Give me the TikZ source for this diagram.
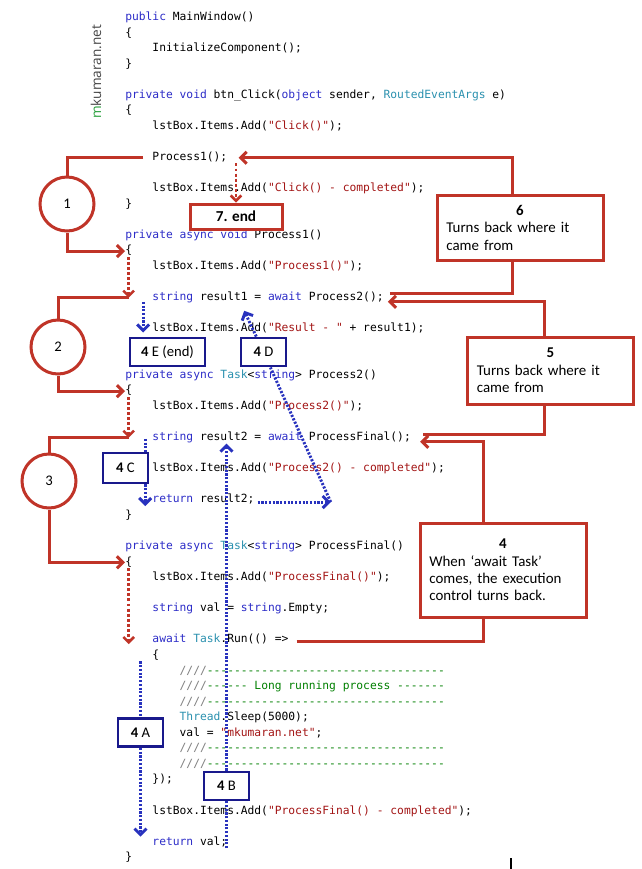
\documentclass[tikz,border=0pt]{standalone}
\usepackage{fontspec}
\setmonofont{DejaVu Sans Mono}
\newfontfamily\notefont{Carlito}
\newfontfamily\sitefont{Open Sans}
\usetikzlibrary{arrows.meta,calc,positioning}

\definecolor{codered}{RGB}{192,52,40}
\definecolor{boxblue}{RGB}{25,25,140}
\definecolor{dotblue}{RGB}{40,50,190}
\definecolor{kwblue}{RGB}{45,45,200}
\definecolor{typeteal}{RGB}{43,145,175}
\definecolor{strred}{RGB}{163,21,21}
\definecolor{cmtgreen}{RGB}{0,128,0}
\definecolor{cmtgray}{RGB}{128,128,128}
\definecolor{sitegreen}{RGB}{40,160,60}
\definecolor{sitegray}{RGB}{70,70,70}

% code colouring
\newcommand{\ckw}[1]{\textcolor{kwblue}{#1}}
\newcommand{\ctp}[1]{\textcolor{typeteal}{#1}}
\newcommand{\cst}[1]{\textcolor{strred}{#1}}
\newcommand{\ccm}[1]{\textcolor{cmtgreen}{#1}}
\newcommand{\cdc}[1]{\textcolor{cmtgray}{#1}}
% one line of the listing: slot, indent, text
\newcommand{\codeln}[3]{\node[code] (c#1) at ({125+27.2*#2},{20.5+15.56*#1}) {#3};}
% centred first line of a note
\newcommand{\notehead}[1]{\makebox[\linewidth]{\textbf{#1}}\\}

\tikzset{
  code/.style={anchor=base west, inner sep=0pt, text height=6.2pt, text depth=2pt,
    font=\ttfamily\fontsize{8.47}{10}\selectfont},
  sitemark/.style={rotate=90, inner sep=0pt, text=sitegray,
    font=\sitefont\fontsize{10.2}{12}\selectfont},
  redline/.style={draw=codered, line width=2.25pt},
  redarrow/.style={redline, -{Straight Barb[length=4.5pt,width=9pt]}},
  reddot/.style={draw=codered, line width=1.9pt, dash pattern=on 2.2pt off 1.6pt,
    -{Straight Barb[length=4pt,width=8pt]}},
  bluedot/.style={draw=dotblue, line width=2.2pt, dash pattern=on 1.6pt off 1.2pt},
  bluearrow/.style={bluedot, -{Straight Barb[length=4.5pt,width=9pt]}},
  stepcircle/.style={circle, draw=codered, line width=2.25pt, fill=white,
    minimum size=40.5pt, inner sep=0pt, font=\notefont\fontsize{11}{13}\selectfont},
  notebox/.style={draw=codered, line width=2.25pt, fill=white, inner xsep=7pt,
    text width=110.5pt, align=left, font=\notefont\fontsize{11.2}{13.1}\selectfont},
  endbox/.style={draw=codered, line width=2.25pt, fill=white, minimum width=69pt,
    minimum height=18.75pt, inner sep=0pt, font=\notefont\bfseries\fontsize{11.4}{13}\selectfont},
  bluebox/.style={draw=boxblue, line width=2.2pt, fill=white, minimum width=33.75pt,
    minimum height=21pt, inner sep=0pt, font=\notefont\fontsize{11}{13}\selectfont}
}

\begin{document}
\begin{tikzpicture}[x=0.75pt, y=-0.75pt]
    % page
    \fill[white] (0,0) rectangle (642,869);
    \useasboundingbox (0,0) rectangle (642,869);

    % site name
    \node[sitemark] (site) at (96,72) {\textcolor{sitegreen}{m}kumaran.net};

    % listing
    \codeln{0}{0}{\ckw{public} MainWindow()}
    \codeln{1}{0}{\{}
    \codeln{2}{1}{InitializeComponent();}
    \codeln{3}{0}{\}}
    \codeln{5}{0}{\ckw{private} \ckw{void} btn\_Click(\ckw{object} sender, \ctp{RoutedEventArgs} e)}
    \codeln{6}{0}{\{}
    \codeln{7}{1}{lstBox.Items.Add(\cst{"Click()"});}
    \codeln{9}{1}{Process1();}
    \codeln{11}{1}{lstBox.Items.Add(\cst{"Click() - completed"});}
    \codeln{12}{0}{\}}
    \codeln{14}{0}{\ckw{private} \ckw{async} \ckw{void} Process1()}
    \codeln{15}{0}{\{}
    \codeln{16}{1}{lstBox.Items.Add(\cst{"Process1()"});}
    \codeln{18}{1}{\ckw{string} result1 = \ckw{await} Process2();}
    \codeln{20}{1}{lstBox.Items.Add(\cst{"Result - "} + result1);}
    \codeln{23}{0}{\ckw{private} \ckw{async} \ctp{Task}<\ckw{string}> Process2()}
    \codeln{24}{0}{\{}
    \codeln{25}{1}{lstBox.Items.Add(\cst{"Process2()"});}
    \codeln{27}{1}{\ckw{string} result2 = \ckw{await} ProcessFinal();}
    \codeln{29}{1}{lstBox.Items.Add(\cst{"Process2() - completed"});}
    \codeln{31}{1}{\ckw{return} result2;}
    \codeln{32}{0}{\}}
    \codeln{34}{0}{\ckw{private} \ckw{async} \ctp{Task}<\ckw{string}> ProcessFinal()}
    \codeln{35}{0}{\{}
    \codeln{36}{1}{lstBox.Items.Add(\cst{"ProcessFinal()"});}
    \codeln{38}{1}{\ckw{string} val = \ckw{string}.Empty;}
    \codeln{40}{1}{\ckw{await} \ctp{Task}.Run(() =>}
    \codeln{41}{1}{\{}
    \codeln{42}{2}{\cdc{////}\ccm{-----------------------------------}}
    \codeln{43}{2}{\cdc{////}\ccm{------ Long running process -------}}
    \codeln{44}{2}{\cdc{////}\ccm{-----------------------------------}}
    \codeln{45}{2}{\ctp{Thread}.Sleep(5000);}
    \codeln{46}{2}{val = \cst{"mkumaran.net"};}
    \codeln{47}{2}{\cdc{////}\ccm{-----------------------------------}}
    \codeln{48}{2}{\cdc{////}\ccm{-----------------------------------}}
    \codeln{49}{1}{\});}
    \codeln{51}{1}{lstBox.Items.Add(\cst{"ProcessFinal() - completed"});}
    \codeln{53}{1}{\ckw{return} val;}
    \codeln{54}{0}{\}}

    % step circles
    \node[stepcircle] (n1) at (67,204) {1};
    \node[stepcircle] (n2) at (58,347) {2};
    \node[stepcircle] (n3) at (49,481) {3};

    % notes
    \node[endbox] (end7) at (236,216.5) {7. end};
    \node[notebox, minimum height=48.75pt] (box6) at (520,227.5)
        {\notehead{6}Turns back where it\\came from};
    \node[notebox, minimum height=50.25pt] (box5) at (550.5,370.5)
        {\notehead{5}Turns back where it\\came from};
    \node[notebox, minimum height=70.5pt] (box4) at (503,570)
        {\notehead{4}When ‘await Task’\\comes, the execution\\control turns back.};

    % blue steps
    \node[bluebox, minimum width=56.25pt] (boxE) at (167.5,352) {\textbf{4} E (end)};
    \node[bluebox] (boxD) at (263.5,352) {\textbf{4} D};
    \node[bluebox, minimum height=22.5pt] (boxC) at (125.5,468) {\textbf{4} C};
    \node[bluebox] (boxA) at (140.5,732.5) {\textbf{4} A};
    \node[bluebox] (boxB) at (226.5,786) {\textbf{4} B};

    % calls going down
    \draw[redline] ($(c9.west)+(-9,0)$) -| (n1.north);
    \draw[redarrow] (n1.south) |- (c15.west);
    \draw[reddot] (end7.north |- c9.south) -- (end7.north);
    \coordinate (r2tip) at (c15.south |- c18.west);
    \draw[reddot] (c15.south) -- (r2tip);
    \draw[redline] (r2tip) -| (n2.north);
    \draw[redarrow] (n2.south) |- (c24.west);
    \coordinate (r3tip) at (c24.south |- c27.west);
    \draw[reddot] (c24.south) -- (r3tip);
    \draw[redline] (r3tip) -| (n3.north);
    \draw[redarrow] (n3.south) |- (c35.west);
    \draw[reddot] (c35.south) -- ($(c35.south |- c40.west)+(0,4)$);

    % going back up
    \draw[redline] ($(c40.east)+(8,1)$) -| ($(box4.south)+(-20,0)$);
    \draw[redarrow] ($(box4.north)+(-20,0)$) |- ($(c27.east)+(9,4)$);
    \draw[redline] ($(c27.east)+(12,-3)$) -| ($(box5.south)+(-6,0)$);
    \draw[redarrow] ($(box5.north)+(-6,0)$) |- ($(c18.east)+(4,4)$);
    \draw[redline] ($(c18.east)+(6,-4)$) -| ($(box6.south)+(-8,0)$);
    \draw[redarrow] ($(box6.north)+(-8,0)$) |- ($(c9.east)+(11,0)$);

    % 4 A and 4 B
    \draw[bluedot] (boxA |- c41.south) -- (boxA);
    \draw[bluearrow] (boxA) -- (boxA |- c53.north);
    \draw[bluedot] (boxB |- c53.south) -- (boxB);
    \draw[bluearrow] (boxB) -- (boxB |- c27.south);

    % 4 C, 4 D, 4 E
    \coordinate (c4top) at ($(c27.west)+(-7,1)$);
    \coordinate (c4tip) at ($(c31.west)+(-7,6)$);
    \draw[bluedot] (c4top) -- (c4top |- boxC.north);
    \draw[bluearrow] (c4top |- boxC.south) -- (c4tip);
    \coordinate (ret2) at ($(c31.east)+(3,2)$);
    \coordinate (d4start) at ($(c31.east)+(76,2)$);
    \coordinate (d4tip) at ($(c18.west)+(92,13)$);
    \draw[bluearrow] (ret2) -- (d4start);
    \draw[bluedot] (d4start) -- (boxD);
    \draw[bluearrow] (boxD) -- (d4tip);
    \coordinate (e4top) at ($(c18.west)+(-9,4)$);
    \draw[bluearrow] (e4top) -- ($(e4top |- boxE.north)+(0,-4)$);

    % cursor
    \draw[black, line width=0.8pt] (511,858) -- (511,869);
\end{tikzpicture}
\end{document}
